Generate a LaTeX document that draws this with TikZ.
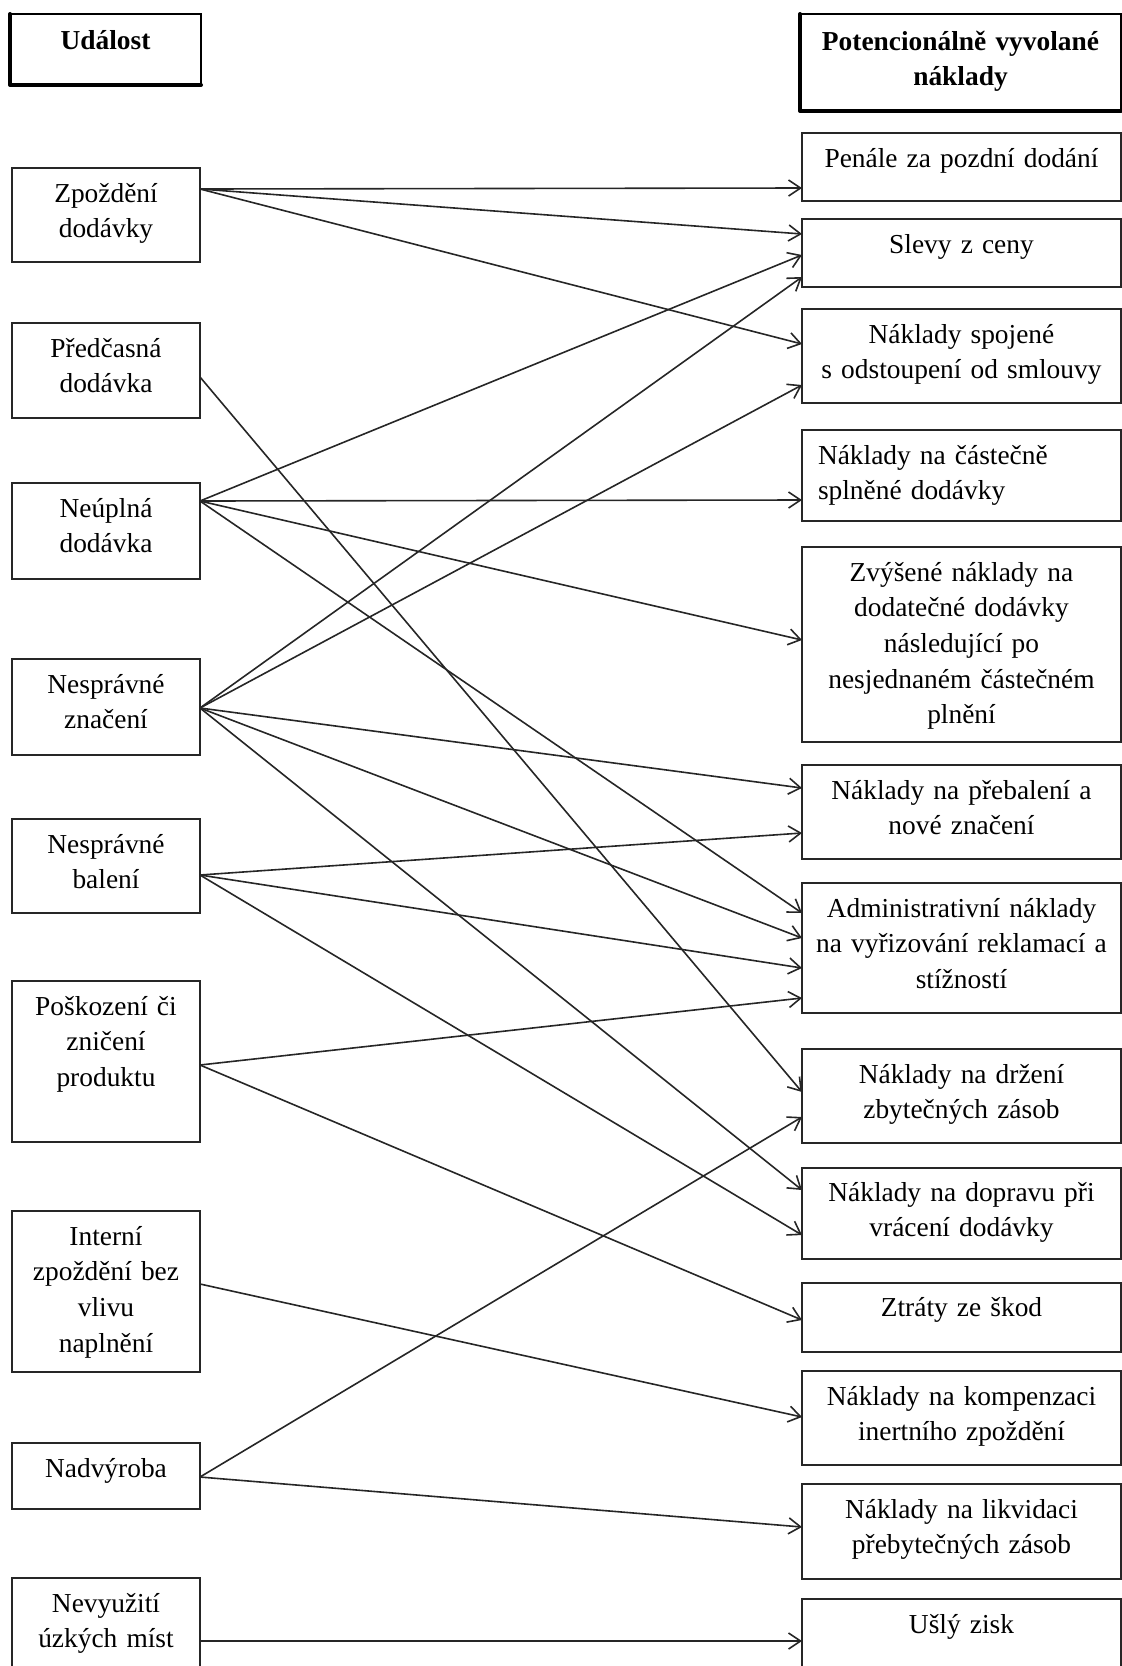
\documentclass[tikz,border=0pt]{standalone}
\usepackage{fontspec}
\setmainfont{Liberation Serif}
\usetikzlibrary{arrows.meta}
\tikzset{
  bx/.style={draw=black!85, line width=1.8pt, rectangle, inner sep=0pt, outer sep=0pt},
  hdr/.style={draw=black, line width=2.2pt, rectangle, inner sep=0pt, outer sep=0pt},
  txt/.style={inner sep=0pt, outer sep=0pt, align=center, text width=300pt,
              font=\fontsize{27.4}{35.7}\selectfont, text=black},
  conn/.style={draw=black!85, line width=1.6pt, -{Straight Barb[length=12pt,width=16pt]}},
}
\newcommand{\mkbox}[6][bx]{\node[#1, minimum width={(#5-#3)*1pt}, minimum height={(#6-#4)*1pt}, anchor=north west] (#2) at (#3pt,-#4pt) {};}
\newcommand{\btext}[3][34]{\node[txt, anchor=base] at ([yshift=-#1pt]#2.north) {#3};}
\begin{document}
\begin{tikzpicture}
\useasboundingbox (0,0) rectangle (1122pt,-1666pt);
\clip (0,0) rectangle (1122pt,-1666pt);
% headers
\mkbox[hdr]{hl}{10}{14}{201}{85}
\draw[line width=4pt, line cap=round, line join=round] (hl.north west) -- (hl.south west) -- (hl.south east);
\btext[35]{hl}{\bfseries Událost}
\mkbox[hdr]{hr}{800}{14}{1121}{111}
\draw[line width=4pt, line cap=round, line join=round] (hr.north west) -- (hr.south west) -- (hr.south east);
\btext[36]{hr}{\bfseries Potencionálně vyvolané\\ \bfseries náklady}
% left boxes
\mkbox{zpo}{12}{168}{200}{262}
\btext{zpo}{Zpoždění\\dodávky}
\mkbox{pre}{12}{323}{200}{418}
\btext{pre}{Předčasná\\dodávka}
\mkbox{neu}{12}{483}{200}{579}
\btext{neu}{Neúplná\\dodávka}
\mkbox{nzn}{12}{659}{200}{755}
\btext{nzn}{Nesprávné\\značení}
\mkbox{nba}{12}{819}{200}{913}
\btext{nba}{Nesprávné\\balení}
\mkbox{pos}{12}{981}{200}{1142}
\btext{pos}{Poškození či\\zničení\\produktu}
\mkbox{int}{12}{1211}{200}{1372}
\btext{int}{Interní\\zpoždění bez\\vlivu\\naplnění}
\mkbox{nad}{12}{1443}{200}{1509}
\btext{nad}{Nadvýroba}
\mkbox{nev}{12}{1578}{200}{1690}
\btext{nev}{Nevyužití\\úzkých míst}
% right boxes
\mkbox{pen}{802}{133}{1121}{201}
\btext{pen}{Penále za pozdní dodání}
\mkbox{sle}{802}{219}{1121}{287}
\btext{sle}{Slevy z ceny}
\mkbox{spo}{802}{309}{1121}{403}
\btext{spo}{Náklady spojené\\s odstoupení od smlouvy}
\mkbox{cas}{802}{430}{1121}{521}
\node[txt, align=left, text width=290pt, anchor=base west] at ([xshift=16pt,yshift=-34pt]cas.north west) {Náklady na částečně\\splněné dodávky};
\mkbox{zvy}{802}{547}{1121}{742}
\btext{zvy}{Zvýšené náklady na\\dodatečné dodávky\\následující po\\nesjednaném částečném\\plnění}
\mkbox{preb}{802}{765}{1121}{859}
\btext{preb}{Náklady na přebalení a\\nové značení}
\mkbox{adm}{802}{883}{1121}{1013}
\btext{adm}{Administrativní náklady\\na vyřizování reklamací a\\stížností}
\mkbox{drz}{802}{1049}{1121}{1143}
\btext{drz}{Náklady na držení\\zbytečných zásob}
\mkbox{dop}{802}{1168}{1121}{1259}
\btext[33]{dop}{Náklady na dopravu při\\vrácení dodávky}
\mkbox{ztr}{802}{1283}{1121}{1352}
\btext[33]{ztr}{Ztráty ze škod}
\mkbox{kom}{802}{1371}{1121}{1465}
\btext{kom}{Náklady na kompenzaci\\inertního zpoždění}
\mkbox{lik}{802}{1484}{1121}{1579}
\btext{lik}{Náklady na likvidaci\\přebytečných zásob}
\mkbox{usl}{802}{1599}{1121}{1690}
\btext{usl}{Ušlý zisk}
% connectors
\draw[conn] ([yshift=-21pt]zpo.north east) -- ([yshift=-55pt]pen.north west);
\draw[conn] ([yshift=-21pt]zpo.north east) -- ([yshift=-15pt]sle.north west);
\draw[conn] ([yshift=-21pt]zpo.north east) -- ([yshift=-35pt]spo.north west);
\draw[conn] ([yshift=-54pt]pre.north east) -- ([yshift=-43pt]drz.north west);
\draw[conn] ([yshift=-18pt]neu.north east) -- ([yshift=-36pt]sle.north west);
\draw[conn] ([yshift=-18pt]neu.north east) -- ([yshift=-70pt]cas.north west);
\draw[conn] ([yshift=-18pt]neu.north east) -- ([yshift=-93pt]zvy.north west);
\draw[conn] ([yshift=-18pt]neu.north east) -- ([yshift=-30pt]adm.north west);
\draw[conn] ([yshift=-49pt]nzn.north east) -- ([yshift=-58pt]sle.north west);
\draw[conn] ([yshift=-49pt]nzn.north east) -- ([yshift=-76pt]spo.north west);
\draw[conn] ([yshift=-49pt]nzn.north east) -- ([yshift=-23pt]preb.north west);
\draw[conn] ([yshift=-49pt]nzn.north east) -- ([yshift=-55pt]adm.north west);
\draw[conn] ([yshift=-49pt]nzn.north east) -- ([yshift=-22pt]dop.north west);
\draw[conn] ([yshift=-56pt]nba.north east) -- ([yshift=-68pt]preb.north west);
\draw[conn] ([yshift=-56pt]nba.north east) -- ([yshift=-85pt]adm.north west);
\draw[conn] ([yshift=-56pt]nba.north east) -- ([yshift=-67pt]dop.north west);
\draw[conn] ([yshift=-84pt]pos.north east) -- ([yshift=-115pt]adm.north west);
\draw[conn] ([yshift=-84pt]pos.north east) -- ([yshift=-37pt]ztr.north west);
\draw[conn] ([yshift=-73pt]int.north east) -- ([yshift=-46pt]kom.north west);
\draw[conn] ([yshift=-34pt]nad.north east) -- ([yshift=-68pt]drz.north west);
\draw[conn] ([yshift=-34pt]nad.north east) -- ([yshift=-43pt]lik.north west);
\draw[conn] ([yshift=-63pt]nev.north east) -- ([yshift=-42pt]usl.north west);
\end{tikzpicture}
\end{document}
